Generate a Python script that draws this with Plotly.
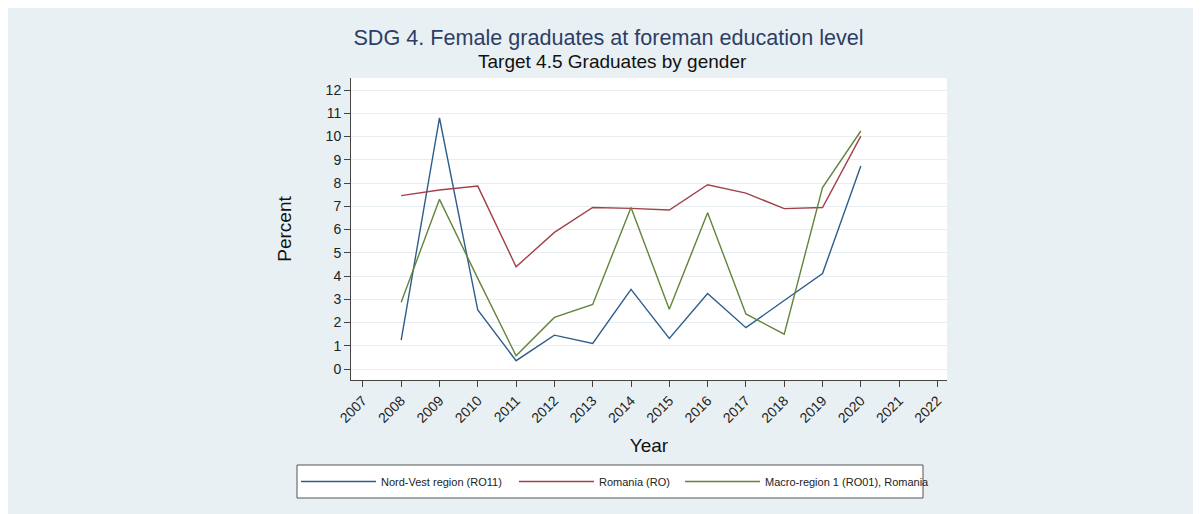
import plotly.graph_objects as go

years = [2008, 2009, 2010, 2011, 2012, 2013, 2014, 2015, 2016, 2017, 2018, 2019, 2020]
nord_vest = [1.25, 10.8, 2.54, 0.36, 1.46, 1.1, 3.43, 1.32, 3.25, 1.78, 2.95, 4.11, 8.73]
romania = [7.46, 7.7, 7.87, 4.4, 5.88, 6.95, 6.91, 6.84, 7.93, 7.57, 6.9, 6.95, 10.02]
macro_region = [2.87, 7.3, 3.9, 0.57, 2.22, 2.78, 6.95, 2.57, 6.72, 2.37, 1.5, 7.81, 10.24]

x_ticks = list(range(2007, 2023))
x_labels = [str(y) for y in x_ticks]
y_ticks = list(range(0, 13))

series_names = ["Nord-Vest region (RO11)", "Romania (RO)", "Macro-region 1 (RO01), Romania"]
series_colors = ["#2f5d8a", "#a3414a", "#63843a"]
series_values = [nord_vest, romania, macro_region]
legend_ids = ["legend", "legend2", "legend3"]

title_text = "SDG 4. Female graduates at foreman education level"
subtitle_text = "Target 4.5 Graduates by gender"

# figure-pixel layout (page body adds 8px offset)
W, H = 1201, 514
L, R, T, B = 343, 939, 70, 372
plot_w, plot_h = R - L, B - T

def px_x(p):
    return (p - L) / plot_w

def px_y(p):
    return (B - p) / plot_h

fig = go.Figure()
for name, color, vals, lg in zip(series_names, series_colors, series_values, legend_ids):
    fig.add_trace(go.Scatter(
        x=years, y=vals, mode="lines", name=name, legend=lg, showlegend=True,
        line=dict(color=color, width=1.4),
    ))

legend_left = [288, 506, 672]
legend_center_y = 473.5

def legend_cfg(xpix):
    return dict(
        orientation="h", xref="container", yref="container",
        x=xpix / W, xanchor="left", y=1 - legend_center_y / H, yanchor="middle",
        bgcolor="rgba(0,0,0,0)", borderwidth=0,
        itemwidth=75, font=dict(size=11, color="#222"),
        visible=True,
    )

bg_light = "#e9f0f3"
fig.update_layout(
    width=W, height=H,
    margin=dict(l=L, r=W - R, t=T, b=H - B),
    paper_bgcolor=bg_light,
    plot_bgcolor="white",
    showlegend=True,
    font=dict(family="Liberation Sans, Arial, sans-serif", color="#222"),
    title=dict(
        text=title_text, x=0.5, xanchor="center", xref="container",
        y=1 - 29 / H, yanchor="middle", yref="container",
        font=dict(size=21.6, color="#2c3e66"),
    ),
    shapes=[
        dict(type="rect", xref="paper", yref="paper", layer="below",
             x0=px_x(289), x1=px_x(915), y0=px_y(490), y1=px_y(457),
             fillcolor="white", line=dict(color="#555", width=1)),
    ],
    annotations=[
        dict(text=subtitle_text, xref="paper", yref="paper",
             x=px_x(604), y=px_y(54), xanchor="center", yanchor="middle",
             showarrow=False, font=dict(size=19, color="#111")),
    ],
    xaxis=dict(
        range=[2006.69, 2022.25], tickmode="array", tickvals=x_ticks, ticktext=x_labels,
        tickangle=-45, ticks="outside", ticklen=6, tickcolor="#444",
        showline=True, linecolor="#444", linewidth=1, showgrid=False, zeroline=False,
        tickfont=dict(size=14, color="#222"),
        title=dict(text="Year", font=dict(size=19, color="#111"), standoff=13),
    ),
    yaxis=dict(
        range=[-0.47, 12.52], tickmode="array", tickvals=y_ticks,
        ticks="outside", ticklen=6, tickcolor="#444",
        showline=True, linecolor="#444", linewidth=1,
        showgrid=True, gridcolor="#e6eef1", gridwidth=1, zeroline=False,
        tickfont=dict(size=14, color="#222"),
        title=dict(text="Percent", font=dict(size=19, color="#111"), standoff=28),
    ),
    legend=legend_cfg(legend_left[0]),
    legend2=legend_cfg(legend_left[1]),
    legend3=legend_cfg(legend_left[2]),
)

fig.write_html("out.html")
